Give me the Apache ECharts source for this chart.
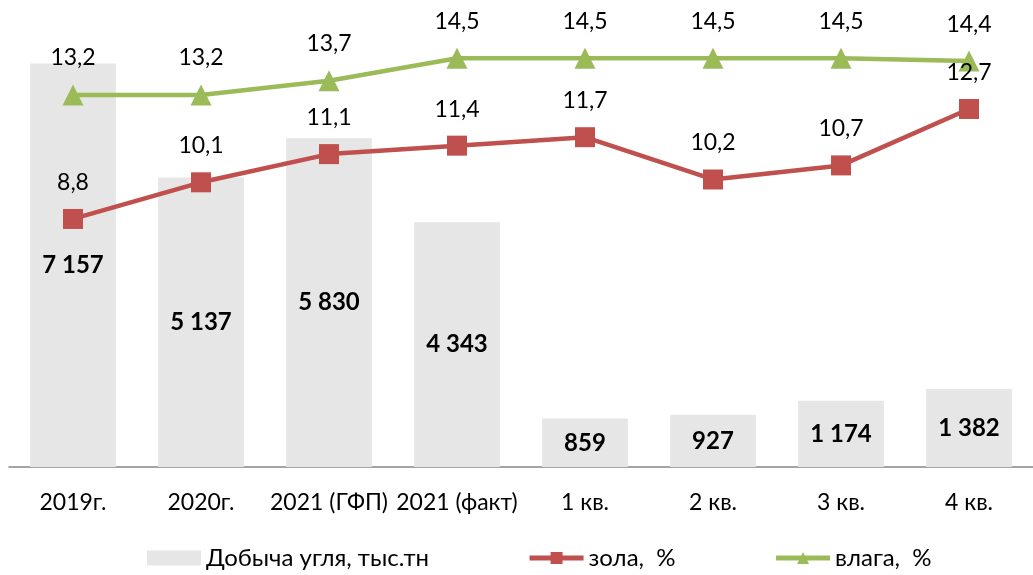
<!DOCTYPE html>
<html>
<head>
<meta charset="utf-8">
<script src="https://cdn.jsdelivr.net/npm/echarts@6/dist/echarts.min.js"></script>
<style>
html, body { margin: 0; padding: 0; background: #fff; }
#chart { width: 1033px; height: 575px; }
</style>
</head>
<body>
<div id="chart"></div>
<script>
const categories = ['2019г.', '2020г.', '2021 (ГФП)', '2021 (факт)', '1 кв.', '2 кв.', '3 кв.', '4 кв.'];
const coal = [7157, 5137, 5830, 4343, 859, 927, 1174, 1382];
const ash = [8.8, 10.1, 11.1, 11.4, 11.7, 10.2, 10.7, 12.7];
const moisture = [13.2, 13.2, 13.7, 14.5, 14.5, 14.5, 14.5, 14.4];

const FONT = 'Lato, "Noto Sans", sans-serif';

// 7157 -> "7 157", 8.8 -> "8,8"
const fmtThousands = v => String(v).replace(/\B(?=(\d{3})+(?!\d))/g, ' ');
const fmtDecimal = v => v.toFixed(1).replace('.', ',');

const chart = echarts.init(document.getElementById('chart'));

const option = {
    animation: false,
    textStyle: { fontFamily: FONT },
    grid: { left: 9, top: 16, width: 1026, height: 451, containLabel: false },
    legend: {
        bottom: 0,
        left: 142,
        itemGap: 98,
        itemWidth: 54,
        itemHeight: 15,
        textStyle: { fontSize: 24, color: '#000', fontFamily: FONT },
        data: [
            { name: 'Добыча угля, тыс.тн', icon: 'rect' },
            { name: 'зола,  %', lineStyle: { width: 5 } },
            { name: 'влага,  %', lineStyle: { width: 5 } }
        ]
    },
    xAxis: {
        type: 'category',
        data: categories,
        axisLine: { lineStyle: { color: '#868686', width: 1.5 } },
        axisTick: { length: 6, lineStyle: { color: '#868686' } },
        axisLabel: { fontSize: 23, color: '#000', margin: 24, interval: 0 }
    },
    yAxis: [
        { type: 'value', min: 0, max: 8000, show: false },
        { type: 'value', min: 0, max: 16, show: false }
    ],
    series: [
        {
            name: 'Добыча угля, тыс.тн',
            type: 'bar',
            data: coal,
            barCategoryGap: '33%',
            itemStyle: { color: '#E6E6E6' },
            label: {
                show: true,
                position: 'inside',
                fontSize: 24,
                fontWeight: 'bold',
                color: '#000',
                formatter: p => fmtThousands(p.value)
            }
        },
        {
            name: 'зола,  %',
            type: 'line',
            yAxisIndex: 1,
            data: ash,
            symbol: 'rect',
            symbolSize: 20,
            lineStyle: { color: '#C0504D', width: 4.5 },
            itemStyle: { color: '#C0504D' },
            label: {
                show: true,
                position: 'top',
                distance: 15,
                fontSize: 23,
                color: '#000',
                formatter: p => fmtDecimal(p.value)
            }
        },
        {
            name: 'влага,  %',
            type: 'line',
            yAxisIndex: 1,
            data: moisture,
            symbol: 'triangle',
            symbolSize: 21,
            lineStyle: { color: '#9BBB59', width: 4.5 },
            itemStyle: { color: '#9BBB59' },
            label: {
                show: true,
                position: 'top',
                distance: 15,
                fontSize: 23,
                color: '#000',
                formatter: p => fmtDecimal(p.value)
            }
        }
    ]
};

chart.setOption(option);
</script>
</body>
</html>
